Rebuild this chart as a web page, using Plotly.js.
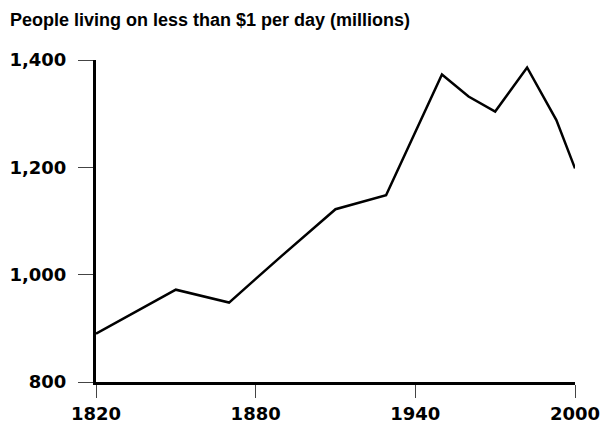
<!DOCTYPE html>
<html>
<head>
<meta charset="utf-8">
<script src="https://cdn.plot.ly/plotly-3.0.1.min.js"></script>
<style>html,body{margin:0;padding:0;background:#fff}#chart{width:602px;height:426px}</style>
</head>
<body>
<div id="chart"></div>
<script>
const years = [1820, 1850, 1870, 1890, 1910, 1929, 1950, 1960, 1970, 1982, 1993, 2000];
const poorMillions = [890, 972, 948, 1036, 1122, 1148, 1373, 1332, 1304, 1386, 1288, 1198];
const xTicks = [1820, 1880, 1940, 2000];
const yTicks = [800, 1000, 1200, 1400];
const yTickLabels = ['800', '1,000', '1,200', '1,400'];
const titleText = 'People living on less than $1 per day (millions)';

const fontFam = '"DejaVu Sans", sans-serif';
const titleFam = '"Liberation Sans", Arial, sans-serif';

Plotly.newPlot('chart', [{
  x: years, y: poorMillions, type: 'scatter', mode: 'lines',
  line: {color: '#000', width: 2.5}, hoverinfo: 'skip'
}], {
  width: 602, height: 426,
  paper_bgcolor: '#fff', plot_bgcolor: '#fff',
  margin: {l: 96, r: 27, t: 60, b: 44},
  showlegend: false,
  title: {text: titleText, x: 10 / 602, xanchor: 'left', xref: 'container',
          y: 1 - 20 / 426, yref: 'container', yanchor: 'middle',
          font: {family: titleFam, size: 18, color: '#000', weight: 700}},
  xaxis: {range: [1820, 2000], tickvals: xTicks, ticktext: xTicks.map(String),
          showgrid: false, zeroline: false, showline: true, linewidth: 3, linecolor: '#000',
          ticks: 'outside', ticklen: 13, tickwidth: 1, tickcolor: '#444',
          tickfont: {family: fontFam, size: 18, color: '#000', weight: 700}},
  yaxis: {range: [800, 1400], tickvals: yTicks, ticktext: yTickLabels,
          showgrid: false, zeroline: false, showline: true, linewidth: 3, linecolor: '#000',
          ticks: 'outside', ticklen: 15, tickwidth: 1, tickcolor: '#444',
          ticklabelstandoff: 8,
          tickfont: {family: fontFam, size: 18, color: '#000', weight: 700}}
}, {staticPlot: true});
</script>
</body>
</html>
